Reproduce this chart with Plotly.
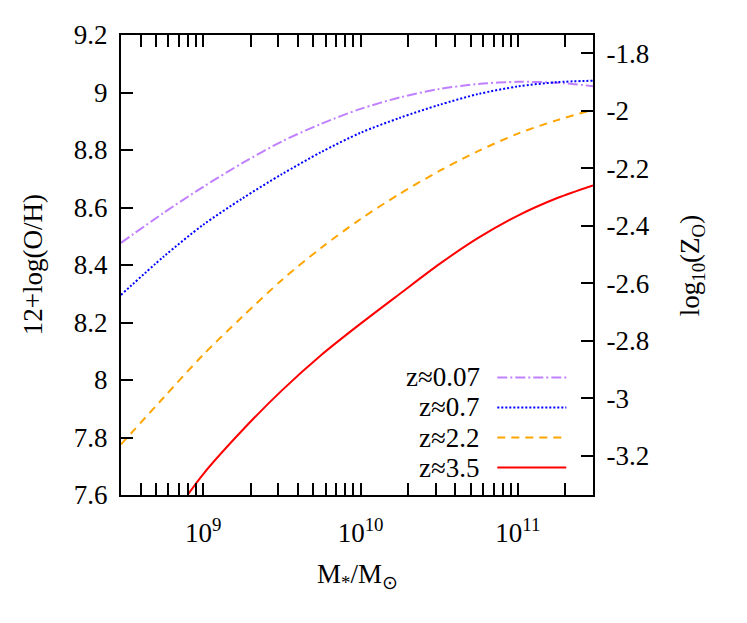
import numpy as np
import plotly.graph_objects as go

# values (log10 of stellar mass, 12+log(O/H))
logm_grid = [8.477, 8.75, 9.0, 9.25, 9.5, 9.75, 10.0, 10.25, 10.5, 10.75, 11.0, 11.25, 11.477]
oh_z007 = [8.477, 8.582, 8.672, 8.755, 8.830, 8.891, 8.943, 8.983, 9.012, 9.030, 9.037, 9.034, 9.022]
oh_z07 = [8.296, 8.430, 8.540, 8.632, 8.716, 8.793, 8.860, 8.912, 8.957, 8.995, 9.021, 9.036, 9.041]
oh_z22 = [7.776, 7.940, 8.088, 8.221, 8.348, 8.460, 8.560, 8.648, 8.727, 8.797, 8.857, 8.904, 8.940]

logm_z35 = [8.9, 9.0, 9.25, 9.5, 9.75, 10.0, 10.25, 10.5, 10.75, 11.0, 11.25, 11.477]
oh_z35 = [7.600, 7.673, 7.826, 7.964, 8.087, 8.196, 8.300, 8.403, 8.495, 8.572, 8.633, 8.677]

labels = ["z≈0.07", "z≈0.7", "z≈2.2", "z≈3.5"]
colors = ["#c080ff", "#0000ff", "#ffa500", "#ff0000"]
dashes = ["10px,3px,2px,3px", "2px,2px", "8px,6px", "solid"]

x_ticks = [1e9, 1e10, 1e11]
x_ticktext = ["10<sup>9</sup>", "10<sup>10</sup>", "10<sup>11</sup>"]
y_ticks = [7.6, 7.8, 8.0, 8.2, 8.4, 8.6, 8.8, 9.0, 9.2]
y_ticktext = ["7.6", "7.8", "8", "8.2", "8.4", "8.6", "8.8", "9", "9.2"]
z_ticks = [-3.2, -3.0, -2.8, -2.6, -2.4, -2.2, -2.0, -1.8]
z_ticktext = ["-3.2", "-3", "-2.8", "-2.6", "-2.4", "-2.2", "-2", "-1.8"]
z_offset = -10.937  # log10(Z_O) = 12+log(O/H) + offset

FONT = "Liberation Serif, Times New Roman, serif"
FS = 27
tfont = dict(family=FONT, size=FS, color="black")


def serif(t):
    return "<span style='font-family:Liberation Serif'>%s</span>" % t


series = [(logm_grid, oh_z007), (logm_grid, oh_z07), (logm_grid, oh_z22), (logm_z35, oh_z35)]

fig = go.Figure()
for (lm, oh), lab, c, d in zip(series, labels, colors, dashes):
    fig.add_trace(go.Scatter(x=10 ** np.array(lm), y=oh, mode="lines", name=lab,
                             line=dict(color=c, width=2, dash=d, shape="spline", smoothing=0.8),
                             showlegend=False))

# invisible trace so the right axis is drawn
fig.add_trace(go.Scatter(x=[1e9], y=[-3], yaxis="y2", mode="markers",
                         marker=dict(opacity=0), showlegend=False, hoverinfo="skip"))

# gnuplot-like key: text right aligned, line sample on the right
pw = 472
ph = 466.7
key_y0 = 375.7
key_dy = 30.5
for i, (lab, c, d) in enumerate(zip(labels, colors, dashes)):
    yy = 1 - (key_y0 + i * key_dy - 28.3) / ph
    fig.add_annotation(xref="paper", yref="paper", x=(482 - 120.7) / pw, y=yy,
                       text=lab, showarrow=False, xanchor="right", yanchor="middle",
                       font=tfont)
    fig.add_shape(type="line", xref="paper", yref="paper",
                  x0=(497 - 120.7) / pw, x1=(566 - 120.7) / pw, y0=yy, y1=yy,
                  line=dict(color=c, width=2, dash=d))

fig.add_annotation(xref="paper", yref="paper", x=(33 - 120.7) / pw, y=0.5,
                   xanchor="center", yanchor="middle",
                   text="12+log(O/H)", textangle=-90, showarrow=False, font=tfont)
fig.add_annotation(xref="paper", yref="paper", x=(692 - 120.7) / pw, y=0.5,
                   xanchor="center", yanchor="middle",
                   text="log<sub>10</sub>(Z<sub>O</sub>)", textangle=-90, showarrow=False,
                   font=tfont)
fig.add_annotation(xref="paper", yref="paper", x=0.5, y=-(577 - 495) / ph,
                   xanchor="center", yanchor="middle",
                   text="M<sub>*</sub>/M<sub>⊙</sub>", showarrow=False, font=tfont)

fig.update_layout(
    width=747, height=623,
    # page body adds 8px, so margins are shifted
    margin=dict(l=113, r=162, t=20, b=136),
    paper_bgcolor="white", plot_bgcolor="white",
    font=tfont,
    xaxis=dict(type="log", range=[np.log10(3e8), np.log10(3e11)],
               tickvals=x_ticks, ticktext=x_ticktext, tickfont=tfont,
               ticks="inside", ticklen=12, tickwidth=1.5, tickcolor="black",
               minor=dict(ticks="inside", ticklen=7, tickwidth=1.5, tickcolor="black",
                          dtick="D1", showgrid=False),
               showline=True, linewidth=2, linecolor="black", mirror="allticks",
               showgrid=False, zeroline=False, ticklabelstandoff=13),
    yaxis=dict(range=[7.6, 9.2], tickvals=y_ticks,
               ticktext=[serif(t) for t in y_ticktext], tickfont=tfont,
               ticks="inside", ticklen=12, tickwidth=1.5, tickcolor="black",
               showline=True, linewidth=2, linecolor="black",
               showgrid=False, zeroline=False, ticklabelstandoff=6),
    yaxis2=dict(overlaying="y", side="right",
                range=[7.6 + z_offset, 9.2 + z_offset],
                tickvals=z_ticks, ticktext=[serif(t) for t in z_ticktext], tickfont=tfont,
                ticks="inside", ticklen=12, tickwidth=1.5, tickcolor="black",
                showline=True, linewidth=2, linecolor="black",
                showgrid=False, zeroline=False, ticklabelstandoff=6),
)

fig.write_html("out.html")
